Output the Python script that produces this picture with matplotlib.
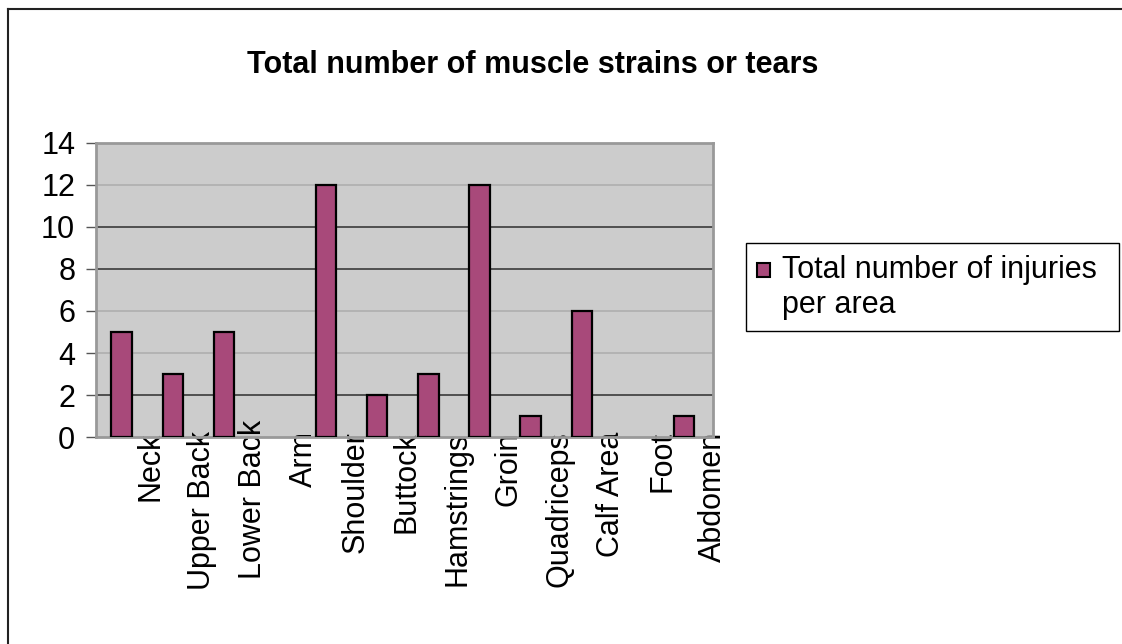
import numpy as np
import matplotlib
matplotlib.use("Agg")
import matplotlib.pyplot as plt
import matplotlib.transforms as mtransforms
from matplotlib.lines import Line2D
from matplotlib.patches import Rectangle

plt.rcParams["font.family"] = ["Liberation Sans", "DejaVu Sans"]

# Dados
categories = ["Neck", "Upper Back", "Lower Back", "Arm", "Shoulder", "Buttock",
              "Hamstrings", "Groin", "Quadriceps", "Calf Area", "Foot", "Abdomen"]
injuries = [5, 3, 5, 0, 12, 2, 3, 12, 1, 6, 0, 1]
y_ticks = [0, 2, 4, 6, 8, 10, 12, 14]

title = "Total number of muscle strains or tears"
series_label = ["Total number of injuries", "per area"]

bar_color = "#A8497A"
plot_bg = "#CCCCCC"
fs = 22

W, H = 1122, 644
fig = plt.figure(figsize=(W / 100, H / 100), dpi=100)
ax = fig.add_axes([0.0856, 0.3214, 0.55, 0.4566])
ax.set_facecolor(plot_bg)

x = np.arange(len(categories))
bars = ax.bar(x, injuries, width=0.4, color=bar_color, edgecolor="black",
              linewidth=1.6, zorder=3)
# barras com valor zero não aparecem
for b, v in zip(bars, injuries):
    if v == 0:
        b.set_visible(False)

ax.set_xlim(-0.5, len(categories) - 0.5)
ax.set_ylim(0, 14)
ax.set_yticks(y_ticks)
ax.set_yticklabels([str(v) for v in y_ticks], fontsize=fs)
ax.tick_params(axis="y", length=7, width=1, color="#555555", pad=8)

# Rótulos das categorias deslocados meia categoria (como no original)
ax.set_xticks(x + 0.57)
ax.set_xticklabels(categories, rotation=90, fontsize=fs, ha="center", va="top")
ax.tick_params(axis="x", length=0, pad=-4)
lbl = ax.get_xticklabels()[2]
lbl.set_transform(lbl.get_transform() + mtransforms.ScaledTranslation(0, 12 / 100, fig.dpi_scale_trans))

# Grade horizontal (algumas linhas mais escuras, como no original)
dark = {2, 8, 10}
for v in y_ticks[1:-1]:
    c = "#3A3A3A" if v in dark else "#AFAFAF"
    ax.axhline(v, color=c, linewidth=1.2, zorder=1)

for sp in ax.spines.values():
    sp.set_color("#999999")
    sp.set_linewidth(2)

fig.text(0.475, 0.899, title, ha="center", va="center",
         fontsize=fs, fontweight="bold")

# Legenda desenhada à mão (caixa à direita)
fig.add_artist(Rectangle((746 / W, 1 - 331 / H), 373 / W, 88 / H,
                         transform=fig.transFigure, facecolor="white",
                         edgecolor="black", linewidth=1))
fig.add_artist(Rectangle((757 / W, 1 - 277 / H), 13 / W, 14 / H,
                         transform=fig.transFigure, facecolor=bar_color,
                         edgecolor="black", linewidth=1.5))
fig.text(782 / W, 1 - 278 / H, series_label[0], fontsize=fs, va="baseline", ha="left")
fig.text(782 / W, 1 - 313 / H, series_label[1], fontsize=fs, va="baseline", ha="left")

# Moldura externa (só topo e esquerda visíveis)
fig.add_artist(Line2D([0.0071, 0.0071], [0, 0.9860], transform=fig.transFigure,
                      color="#222222", linewidth=1.5))
fig.add_artist(Line2D([0.0071, 1.0], [0.9860, 0.9860], transform=fig.transFigure,
                      color="#222222", linewidth=1.5))

fig.savefig("out.png", dpi=100)
